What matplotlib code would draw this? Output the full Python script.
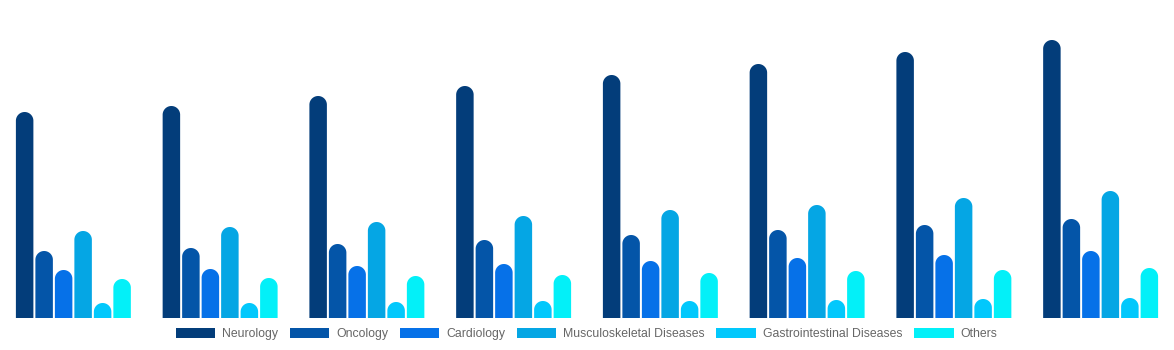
import numpy as np
import matplotlib
matplotlib.use('Agg')
import matplotlib.pyplot as plt
from matplotlib.patches import Polygon, Patch

# Data (arbitrary units)
years = ['2017', '2018', '2019', '2020', '2021', '2022', '2023', '2024']
categories = ['Neurology', 'Oncology', 'Cardiology', 'Musculoskeletal Diseases',
              'Gastrointestinal Diseases', 'Others']
neurology = [206, 212, 222, 232, 243, 254, 266, 278]
oncology = [67, 70, 74, 78, 83, 88, 93, 99]
cardiology = [48, 49, 52, 54, 57, 60, 63, 67]
musculoskeletal = [87, 91, 96, 102, 108, 113, 120, 127]
gastro = [15, 15, 16, 17, 17, 18, 19, 20]
others = [39, 40, 42, 43, 45, 47, 48, 50]
series = [neurology, oncology, cardiology, musculoskeletal, gastro, others]
colors = ['#033d7a', '#0455a8', '#0671e8', '#05a6e4', '#02c8fc', '#03f0f8']

W, H, DPI = 1174, 350, 100
fig = plt.figure(figsize=(W / DPI, H / DPI), dpi=DPI)
base_px = 318
top_px = 10
ax = fig.add_axes([0, (H - base_px) / H, 1, (base_px - top_px) / H])
ymax = base_px - top_px
ax.set_xlim(-0.5, len(years) - 0.5)
ax.set_ylim(0, ymax)
ax.axis('off')

step = 19.5 / 146.8
width = 17.5 / 146.8
x = np.arange(len(years))

# data units per pixel, to keep the caps round
xpp = len(years) / W
ypp = ymax / (base_px - top_px)
aspect = ypp / xpp
theta = np.linspace(np.pi, 0, 40)

for j, (vals, c) in enumerate(zip(series, colors)):
    bars = ax.bar(x + (j - 2.5) * step, vals, width, color=c)
    for rect in bars.patches:
        rect.set_visible(False)
        bx, bw, bh = rect.get_x(), rect.get_width(), rect.get_height()
        r = bw / 2
        ry = r * aspect
        cx, cy = bx + r, bh - ry
        arc = np.column_stack([cx + r * np.cos(theta), cy + ry * np.sin(theta)])
        verts = np.vstack([[bx, 0], arc, [bx + bw, 0]])
        ax.add_patch(Polygon(verts, closed=True, facecolor=c, edgecolor='none'))

handles = [Patch(facecolor=c, edgecolor='none') for c in colors]
fig.legend(handles, categories, loc='center', bbox_to_anchor=(0.4995, 1 - 334 / H),
           ncol=6, frameon=False, handlelength=3.25, handleheight=0.95,
           handletextpad=0.55, columnspacing=0.95, labelcolor='#666666',
           prop={'family': 'Liberation Sans', 'size': 8.8})

fig.savefig('out.png', dpi=DPI)
